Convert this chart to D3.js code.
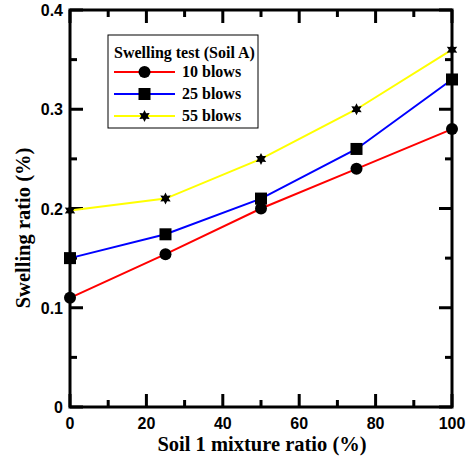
<!DOCTYPE html>
<html>
<head>
<meta charset="utf-8">
<script src="https://cdn.jsdelivr.net/npm/d3@7"></script>
<style>
body { margin: 0; background: #fff; }
svg { display: block; }
</style>
</head>
<body>
<script>
var w = 471;
var h = 458;

// Data
var mixRatio = [0, 25, 50, 75, 100];
var blows10 = [0.11, 0.154, 0.2, 0.24, 0.28];
var blows25 = [0.15, 0.174, 0.21, 0.26, 0.33];
var blows55 = [0.198, 0.21, 0.25, 0.3, 0.36];
var seriesNames = ["10 blows", "25 blows", "55 blows"];
var xTicks = [0, 20, 40, 60, 80, 100];
var yTicks = [0, 0.1, 0.2, 0.3, 0.4];

var series = [
  { name: seriesNames[0], values: blows10, color: "#ff0000", marker: "circle" },
  { name: seriesNames[1], values: blows25, color: "#0000ff", marker: "square" },
  { name: seriesNames[2], values: blows55, color: "#ffff00", marker: "star" }
];

var svg = d3.select("body").append("svg")
  .attr("width", w)
  .attr("height", h);

// plot box
var pLeft = 70, pRight = 452, pTop = 10, pBottom = 407;

var xScale = d3.scaleLinear().domain([0, 100]).range([pLeft, pRight]);
var yScale = d3.scaleLinear().domain([0, 0.4]).range([pBottom, pTop]);

// ticks (inward, all four sides)
var tickG = svg.append("g").attr("stroke", "#000").attr("stroke-width", 3);
d3.range(0, 101, 10).forEach(function(v) {
  var len = v % 20 === 0 ? 13 : 7;
  var x = xScale(v);
  tickG.append("line").attr("x1", x).attr("x2", x).attr("y1", pBottom).attr("y2", pBottom - len);
  tickG.append("line").attr("x1", x).attr("x2", x).attr("y1", pTop).attr("y2", pTop + len);
});
d3.range(0, 9).forEach(function(i) {
  var len = i % 2 === 0 ? 13 : 7;
  var y = yScale(i * 0.05);
  tickG.append("line").attr("x1", pLeft).attr("x2", pLeft + len).attr("y1", y).attr("y2", y);
  tickG.append("line").attr("x1", pRight).attr("x2", pRight - len).attr("y1", y).attr("y2", y);
});

// frame
svg.append("rect")
  .attr("x", pLeft).attr("y", pTop)
  .attr("width", pRight - pLeft).attr("height", pBottom - pTop)
  .attr("fill", "none").attr("stroke", "#000").attr("stroke-width", 3);

// tick labels
svg.selectAll(".xl").data(xTicks).enter().append("text")
  .attr("class", "xl")
  .attr("x", function(d) { return xScale(d); })
  .attr("y", 429)
  .attr("text-anchor", "middle")
  .attr("font-family", "Liberation Sans, Arial, sans-serif")
  .attr("font-weight", "bold")
  .attr("font-size", "16px")
  .text(function(d) { return d; });

svg.selectAll(".yl").data(yTicks).enter().append("text")
  .attr("class", "yl")
  .attr("x", 63)
  .attr("y", function(d) { return yScale(d) + 6; })
  .attr("text-anchor", "end")
  .attr("font-family", "Liberation Sans, Arial, sans-serif")
  .attr("font-weight", "bold")
  .attr("font-size", "16px")
  .text(function(d) { return d === 0 ? "0" : d3.format(".1f")(d); });

// axis titles
svg.append("text")
  .attr("x", 262).attr("y", 451)
  .attr("text-anchor", "middle")
  .attr("font-family", "Liberation Serif, Times New Roman, serif")
  .attr("font-weight", "bold")
  .attr("font-size", "20.5px")
  .text("Soil 1 mixture ratio (%)");

svg.append("text")
  .attr("transform", "translate(30,228) rotate(-90)")
  .attr("text-anchor", "middle")
  .attr("font-family", "Liberation Serif, Times New Roman, serif")
  .attr("font-weight", "bold")
  .attr("font-size", "20.5px")
  .text("Swelling ratio (%)");

// markers
function drawMarker(g, type, x, y) {
  if (type === "circle") {
    g.append("circle").attr("cx", x).attr("cy", y).attr("r", 6).attr("fill", "#000");
  } else if (type === "square") {
    g.append("rect").attr("x", x - 6).attr("y", y - 6).attr("width", 12).attr("height", 12).attr("fill", "#000");
  } else {
    // six point star
    var pts = [];
    for (var k = 0; k < 12; k++) {
      var a = Math.PI / 6 * k - Math.PI / 2;
      var r = k % 2 === 0 ? 6 : 3.2;
      pts.push([x + r * Math.cos(a), y + r * Math.sin(a)]);
    }
    g.append("polygon").attr("points", pts.map(function(p) { return p.join(","); }).join(" ")).attr("fill", "#000");
  }
}

var line = d3.line()
  .x(function(d, i) { return xScale(mixRatio[i]); })
  .y(function(d) { return yScale(d); });

series.forEach(function(s) {
  svg.append("path")
    .attr("d", line(s.values))
    .attr("fill", "none")
    .attr("stroke", s.color)
    .attr("stroke-width", 2);
});
series.forEach(function(s) {
  var g = svg.append("g");
  s.values.forEach(function(v, i) {
    drawMarker(g, s.marker, xScale(mixRatio[i]), yScale(v));
  });
});

// legend
var lg = svg.append("g");
lg.append("rect")
  .attr("x", 108).attr("y", 35)
  .attr("width", 150).attr("height", 93)
  .attr("fill", "#fff").attr("stroke", "#000").attr("stroke-width", 1);
lg.append("text")
  .attr("x", 114).attr("y", 58)
  .attr("font-family", "Liberation Serif, Times New Roman, serif")
  .attr("font-weight", "bold")
  .attr("font-size", "16px")
  .text("Swelling test (Soil A)");
series.forEach(function(s, i) {
  var y = 72 + i * 22;
  lg.append("line")
    .attr("x1", 114).attr("x2", 175)
    .attr("y1", y).attr("y2", y)
    .attr("stroke", s.color).attr("stroke-width", 2);
  drawMarker(lg, s.marker, 144.5, y);
  lg.append("text")
    .attr("x", 182).attr("y", y + 5)
    .attr("font-family", "Liberation Serif, Times New Roman, serif")
    .attr("font-weight", "bold")
    .attr("font-size", "16px")
    .text(s.name);
});
</script>
</body>
</html>
